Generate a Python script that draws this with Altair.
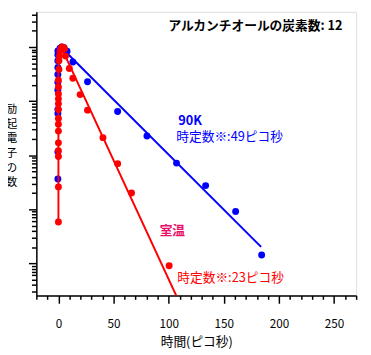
import altair as alt
import pandas as pd

# ---- data (normalised intensity, peak = 1) ----
red_x = [0, 0, 0, 0, 0, 0, 0, 0, 0, 0, 0, 0, 0, 0, 0.5, 0.5, 1, 1.5, 2.5, 3.5, 4.5, 5.5,
         6.4, 9.9, 13.1, 19.7, 26.4, 40.4, 53.7, 66.3, 100.4]
red_y = [5.8e-4, 2.59e-3, 9.44e-3, 0.0121, 0.0169, 0.0279, 0.0372, 0.0479, 0.0697, 0.0893,
         0.110, 0.136, 0.182, 0.243, 0.384, 0.558, 0.687, 0.847, 0.959, 1.0, 0.98, 0.93,
         0.68, 0.40, 0.264, 0.132, 0.068, 0.0211, 6.97e-3, 2.0e-3, 9.0e-5]

blue_x = [-0.5, -0.5, -0.5, -0.5, -0.5, -0.5, -0.5, -0.5, -0.5, -0.5, -0.5, 1.5, 3, 5,
          7.8, 13.1, 26.4, 53.7, 80.3, 107.1, 133.5, 160.7, 184.3]
blue_y = [3.62e-3, 0.0116, 0.0589, 0.0697, 0.160, 0.223, 0.312, 0.417, 0.558, 0.717, 0.847,
          0.95, 1.0, 0.97, 0.836, 0.529, 0.228, 0.0641, 0.0226, 7.14e-3, 2.74e-3, 9.06e-4, 1.43e-4]

red_fit_x = [0, 0, 2.5, 112]
red_fit_y = [5.8e-4, 0.9, 1.0, 1.5e-5]
blue_fit_x = [3.1, 183.8]
blue_fit_y = [0.959, 2.02e-4]

ann_text = ["アルカンチオールの炭素数: 12", "90K", "時定数※:49ピコ秒", "室温", "時定数※:23ピコ秒"]
ann_x = [99.8, 108.6, 106.9, 91.8, 107.8]
ann_y = [2.4, 0.0423, 0.0217, 3.98e-4, 5.4e-5]
ann_color = ["#000000", "#0000ff", "#0000ff", "#e8106a", "#ff0000"]
ann_weight = ["bold", "bold", "normal", "bold", "normal"]

y_title = ["励", "起", "電", "子", "の", "数"]

x_ticks = list(range(-20, 271, 10))
y_ticks = []
for e in range(-5, 1):
    for m in range(1, 10):
        v = m * 10 ** e
        if 2.55e-5 <= v <= 4.48:
            y_ticks.append(v)

FONT = "Noto Sans CJK JP"

pts_red = pd.DataFrame({"x": red_x, "y": red_y})
pts_blue = pd.DataFrame({"x": blue_x, "y": blue_y})
fit_red = pd.DataFrame({"x": red_fit_x, "y": red_fit_y, "i": range(len(red_fit_x))})
fit_blue = pd.DataFrame({"x": blue_fit_x, "y": blue_fit_y, "i": range(len(blue_fit_x))})
ann = pd.DataFrame({"t": ann_text, "x": ann_x, "y": ann_y, "c": ann_color, "w": ann_weight})

xscale = alt.Scale(domain=[-20, 270], nice=False, zero=False)
yscale = alt.Scale(type="log", domain=[2.55e-5, 4.48], nice=False)

xaxis = alt.Axis(
    values=x_ticks,
    labelExpr="datum.value % 50 === 0 && datum.value >= 0 ? datum.label : ''",
    tickSize={"condition": {"test": "datum.value % 50 === 0", "value": 8}, "value": 4},
    tickColor="black", domainColor="black", domainWidth=1.5, tickWidth=1.5,
    labelFont=FONT, labelFontSize=12, labelColor="black", labelPadding=16,
    grid=False, title="時間(ピコ秒)", titleFont=FONT, titleFontSize=13,
    titleFontWeight="normal", titleColor="black", titlePadding=6, labelFlush=False,
)
yaxis = alt.Axis(
    values=y_ticks, labels=False, grid=False,
    tickSize={"condition": {"test": "abs(log(datum.value)/LN10 - round(log(datum.value)/LN10)) < 0.001", "value": 8}, "value": 5},
    tickColor="black", domainColor="black", domainWidth=1.5, tickWidth=1.5,
    title=y_title, titleAngle=0, titleFont=FONT, titleFontSize=12,
    titleFontWeight="normal", titleColor="black", titleLineHeight=15,
    titleAlign="center", titleBaseline="middle", titleX=-26, titleY=99,
)

X = alt.X("x:Q", scale=xscale, axis=xaxis)
Y = alt.Y("y:Q", scale=yscale, axis=yaxis)

blue_line = alt.Chart(fit_blue).mark_line(color="#0000ff", strokeWidth=2, clip=True).encode(
    x=X, y=Y, order="i:Q")
blue_pts = alt.Chart(pts_blue).mark_point(filled=True, color="#0000ff", size=50, opacity=1, clip=True).encode(
    x=X, y=Y)
red_line = alt.Chart(fit_red).mark_line(color="#ff0000", strokeWidth=2, clip=True).encode(
    x=X, y=Y, order="i:Q")
red_pts = alt.Chart(pts_red).mark_point(filled=True, color="#ff0000", size=50, opacity=1, clip=True).encode(
    x=X, y=Y)
texts_bold = alt.Chart(ann[ann.w == "bold"]).mark_text(
    align="left", baseline="middle", font=FONT, fontSize=13, fontWeight="bold").encode(
    x=X, y=Y, text="t:N", color=alt.Color("c:N", scale=None))
texts_norm = alt.Chart(ann[ann.w == "normal"]).mark_text(
    align="left", baseline="middle", font=FONT, fontSize=13).encode(
    x=X, y=Y, text="t:N", color=alt.Color("c:N", scale=None))

chart = alt.layer(blue_line, blue_pts, red_line, red_pts, texts_bold, texts_norm).properties(
    width=327, height=290,
    autosize=alt.AutoSizeParams(type="none"),
    padding={"left": 29, "top": 0, "right": 7, "bottom": 56},
).configure_view(stroke="black", strokeWidth=1.5).configure(background="white")

chart.save("out.html", embed_options={"renderer": "svg", "actions": False})
